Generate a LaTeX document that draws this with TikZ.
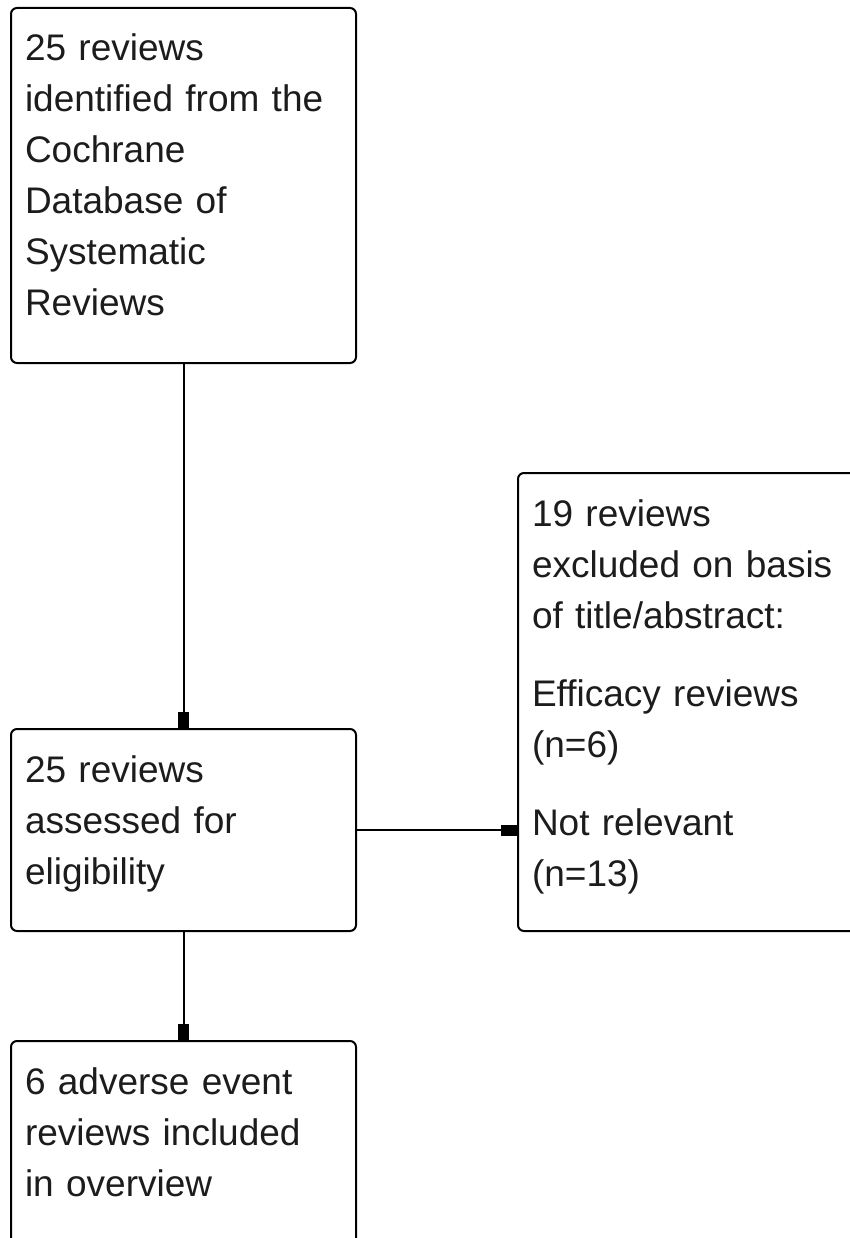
\documentclass[tikz,border=0pt]{standalone}
\usepackage{fontspec}
\setmainfont{Liberation Sans}
\usetikzlibrary{positioning,arrows.meta}
\definecolor{flowLine}{HTML}{000000}
\definecolor{flowText}{HTML}{1C1C1C}
\tikzset{
  flow box/.style={
    draw=flowLine, line width=2pt, rounded corners=6pt,
    anchor=north west, align=left,
    inner xsep=14pt, inner ysep=0pt, text height=53pt,
    font=\fontsize{37}{51}\selectfont, text=flowText,
  },
  flow arrow/.style={
    -{Rectangle[length=16pt, width=11pt]},
    line width=2pt, color=flowLine,
  },
}

\begin{document}
\begin{tikzpicture}[x=1pt, y=-1pt]
\useasboundingbox (0,0) rectangle (850,1238);
\clip (0,0) rectangle (850,1238);

%% --- BOXES (pixel grid, y runs down) ---
\node[flow box, text width=317pt, text depth=302pt]
  (identified) at (10,7)
  {25 reviews\\identified from the\\Cochrane\\Database of\\Systematic\\Reviews};
\node[flow box, text width=317pt, text depth=149pt]
  (assessed) at (10,728)
  {25 reviews\\assessed for\\eligibility};
\node[flow box, text width=317pt, text depth=250pt]
  (included) at (10,1040)
  {6 adverse event\\reviews included\\in overview};
\node[flow box, text width=340pt, text depth=405pt]
  (excluded) at (517,472)
  {19 reviews\\excluded on basis\\of title/abstract:\\[27pt]Efficacy reviews\\(n=6)\\[27pt]Not relevant\\(n=13)};

%% --- ARROWS ---
\draw[flow arrow] (identified.south) -- (assessed.north);
\draw[flow arrow] (assessed.east) -- (assessed.east -| excluded.west);
\draw[flow arrow] (assessed.south) -- (included.north);

\end{tikzpicture}
\end{document}
